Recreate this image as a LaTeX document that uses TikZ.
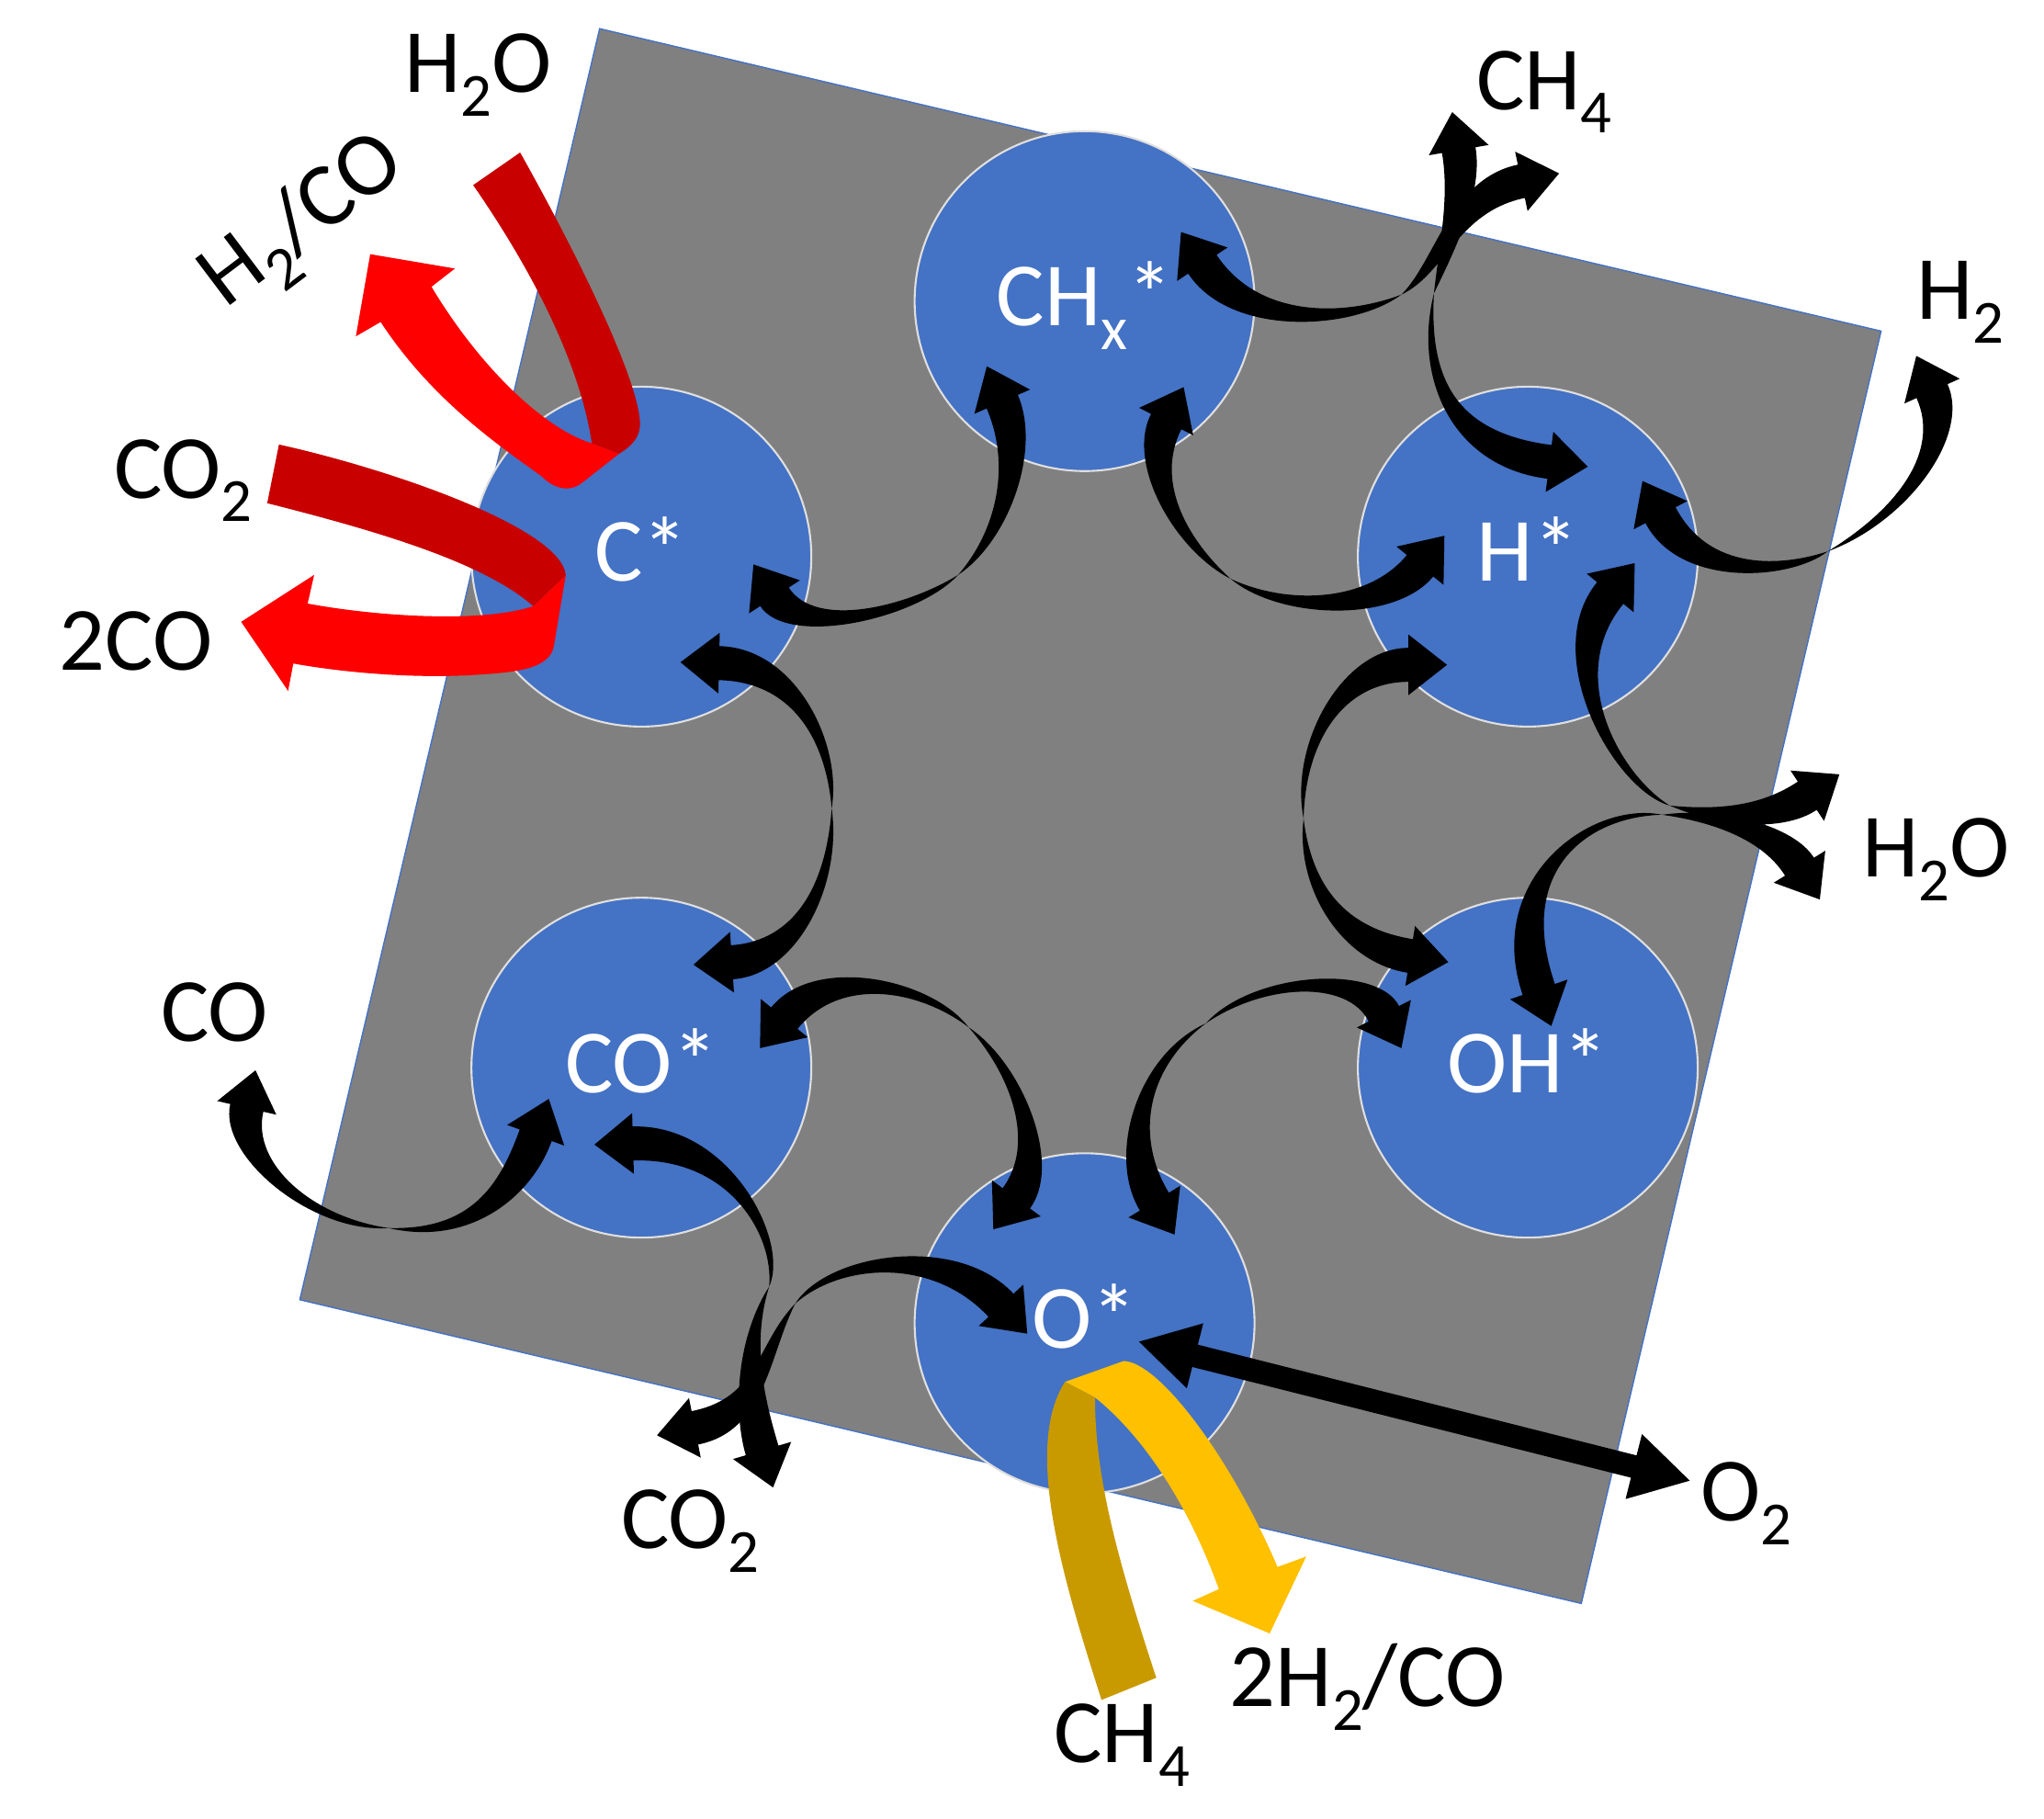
\documentclass[tikz,border=0pt]{standalone}
\usepackage{fontspec}
\setmainfont{Carlito}
\usetikzlibrary{calc, arrows.meta}
\definecolor{azul}{HTML}{4472C4}
\definecolor{gris}{HTML}{808080}
\definecolor{rojo}{HTML}{FF0000}
\definecolor{rojooscuro}{HTML}{C80000}
\definecolor{oro}{HTML}{FFC000}
\definecolor{orooscuro}{HTML}{C99A00}
\tikzstyle{fondo} = [draw=azul, line width=0.4pt, fill=gris]
\tikzstyle{sitio} = [circle, draw=white!75!gris, line width=0.6pt, fill=azul, minimum size=3.70cm, inner sep=0pt, text=white, text height=0.62cm, text depth=0.08cm, font=\fontsize{28}{34}\selectfont]
\tikzstyle{especie} = [text=black, inner sep=0pt, anchor=base west, font=\fontsize{28}{34}\selectfont]
\newcommand{\ind}[1]{\raisebox{-0.26em}{\fontsize{19}{19}\selectfont #1}}
\newcommand{\ancho}{0.185cm}
\newcommand{\anchofino}{0.09cm}
\newcommand{\cabeza}{0.33cm}
\newcommand{\largo}{0.42cm}
% punto fino, control, control, punta
\newcommand{\flecha}[4]{%
	\coordinate (base) at ($(#4)!\largo!(#3)$);
	\fill[black] (#1) .. controls ($(#2)!\anchofino!-90:(#1)$) and ($(#3)!\ancho!90:(base)$) .. ($(base)!\ancho!90:(#4)$)
		-- ($(base)!\cabeza!90:(#4)$) -- (#4) -- ($(base)!\cabeza!-90:(#4)$) -- ($(base)!\ancho!-90:(#4)$)
		.. controls ($(#3)!\ancho!-90:(base)$) and ($(#2)!\anchofino!90:(#1)$) .. (#1) -- cycle;}
\begin{document}
\begin{tikzpicture}[x=0.01419cm, y=-0.01419cm]
	\useasboundingbox (0,0) rectangle (1568,1395);
	\draw[fondo] (460,22) -- (1443,254) -- (1213,1230) -- (230,997) -- cycle;
	% sitios
	\node[sitio] (chx) at (832,231) {CH\ind{x}*};
	\node[sitio] (c) at (492,427) {C*};
	\node[sitio] (h) at (1172,427) {H*};
	\node[sitio] (co) at (492,819) {CO*};
	\node[sitio] (oh) at (1172,819) {OH*};
	\node[sitio] (o) at (832,1015) {O*};
	% especies
	\node[especie] (h2oa) at (310,71) {H\ind{2}O};
	\node[especie, anchor=center, rotate=37] (h2co) at (234,172) {H\ind{2}/CO};
	\node[especie] (co2a) at (87,382) {CO\ind{2}};
	\node[especie] (dosco) at (45,514) {2CO};
	\node[especie] (coa) at (123,799) {CO};
	\node[especie] (co2b) at (476,1188) {CO\ind{2}};
	\node[especie] (ch4a) at (1132,84) {CH\ind{4}};
	\node[especie] (h2) at (1470,245) {H\ind{2}};
	\node[especie] (h2ob) at (1428,673) {H\ind{2}O};
	\node[especie] (o2) at (1304,1167) {O\ind{2}};
	\node[especie] (dosh2) at (943,1309) {2H\ind{2}/CO};
	\node[especie] (ch4b) at (808,1352) {CH\ind{4}};
	% bandas rojas
	\fill[rojo] (475,348) -- (447,370) .. controls (440,376) and (428,378) .. (415,365)
		.. controls (380,340) and (330,305) .. (292,247) -- (273,258) -- (284,195) -- (349,206) -- (331,220)
		.. controls (370,285) and (420,330) .. (454,340) -- cycle;
	\fill[rojooscuro] (399,117) .. controls (440,190) and (490,290) .. (491,325)
		.. controls (491,335) and (485,342) .. (475,348) -- (454,340)
		.. controls (445,280) and (410,210) .. (363,142) -- cycle;
	\fill[rojo] (434,441) -- (425,495) .. controls (422,515) and (390,516) .. (360,518)
		.. controls (320,520) and (270,517) .. (225,509) -- (221,530) -- (185,477) -- (241,441) -- (236,463)
		.. controls (290,473) and (370,478) .. (409,465) -- cycle;
	\fill[rojooscuro] (214,341) .. controls (300,360) and (430,405) .. (434,441) -- (409,465)
		.. controls (370,430) and (280,405) .. (205,386) -- cycle;
	% bandas amarillas
	\fill[oro] (817,1060) -- (862,1044) .. controls (890,1045) and (945,1120) .. (980,1202) -- (1002,1194)
		-- (974,1253) -- (915,1228) -- (935,1219) .. controls (910,1150) and (875,1100) .. (840,1072) -- cycle;
	\fill[orooscuro] (845,1304) .. controls (815,1210) and (785,1110) .. (817,1060) -- (840,1072)
		.. controls (840,1130) and (855,1190) .. (887,1287) -- cycle;
	% flechas negras
	\coordinate (m1) at (1075,226);
	\coordinate (t1) at (906,178);
	\coordinate (t2) at (1196,133);
	\flecha{m1}{1035,248}{955,252}{t1}
	\flecha{m1}{1105,205}{1115,150}{t2}
	\coordinate (m2) at (1100,225);
	\coordinate (t3) at (1114,86);
	\coordinate (t4) at (1218,358);
	\flecha{m2}{1110,190}{1125,150}{t3}
	\flecha{m2}{1090,290}{1115,345}{t4}
	\coordinate (m3) at (944,444);
	\coordinate (t5) at (908,297);
	\coordinate (t6) at (1108,411);
	\flecha{m3}{905,417}{875,362}{t5}
	\flecha{m3}{985,470}{1060,470}{t6}
	\coordinate (m4) at (735,441);
	\coordinate (t7) at (578,433);
	\coordinate (t8) at (757,281);
	\flecha{m4}{700,470}{615,490}{t7}
	\flecha{m4}{770,410}{787,350}{t8}
	\coordinate (m5) at (1000,628);
	\coordinate (t9) at (1110,510);
	\coordinate (t10) at (1111,738);
	\flecha{m5}{995,570}{1030,510}{t9}
	\flecha{m5}{1000,680}{1030,725}{t10}
	\coordinate (m6) at (1281,618);
	\coordinate (t11) at (1254,432);
	\coordinate (t12) at (1411,594);
	\flecha{m6}{1240,600}{1190,510}{t11}
	\flecha{m6}{1320,628}{1360,628}{t12}
	\coordinate (m7) at (1275,625);
	\coordinate (t13) at (1396,690);
	\coordinate (t14) at (1190,787);
	\flecha{m7}{1320,625}{1365,640}{t13}
	\flecha{m7}{1220,620}{1150,670}{t14}
	\coordinate (m8) at (1402,423);
	\coordinate (t15) at (1260,369);
	\coordinate (t16) at (1470,273);
	\flecha{m8}{1370,440}{1300,445}{t15}
	\flecha{m8}{1460,395}{1500,340}{t16}
	\coordinate (m9) at (638,620);
	\coordinate (t17) at (522,508);
	\coordinate (t18) at (532,740);
	\flecha{m9}{640,570}{610,510}{t17}
	\flecha{m9}{640,680}{610,735}{t18}
	\coordinate (m10) at (743,788);
	\coordinate (t19) at (583,804);
	\coordinate (t20) at (762,943);
	\flecha{m10}{710,755}{635,740}{t19}
	\flecha{m10}{780,820}{805,885}{t20}
	\coordinate (m11) at (925,785);
	\coordinate (t21) at (901,947);
	\coordinate (t22) at (1075,804);
	\flecha{m11}{875,815}{860,880}{t21}
	\flecha{m11}{965,750}{1045,745}{t22}
	\coordinate (m12) at (590,987);
	\coordinate (t23) at (456,878);
	\coordinate (t24) at (593,1141);
	\flecha{m12}{600,950}{560,875}{t23}
	\flecha{m12}{570,1030}{575,1080}{t24}
	\coordinate (m13) at (610,1000);
	\coordinate (t25) at (788,1023);
	\coordinate (t26) at (504,1101);
	\flecha{m13}{640,965}{725,955}{t25}
	\flecha{m13}{585,1035}{585,1085}{t26}
	\coordinate (m14) at (298,942);
	\coordinate (t27) at (196,821);
	\coordinate (t28) at (421,843);
	\flecha{m14}{240,940}{180,890}{t27}
	\flecha{m14}{360,950}{395,915}{t28}
	% flecha recta
	\coordinate (t29) at (873,1029);
	\coordinate (t30) at (1297,1136);
	\draw[black, line width=0.25cm, {Triangle[length=0.64cm,width=0.68cm]}-{Triangle[length=0.64cm,width=0.68cm]}] (t29) -- (t30);
\end{tikzpicture}
\end{document}
